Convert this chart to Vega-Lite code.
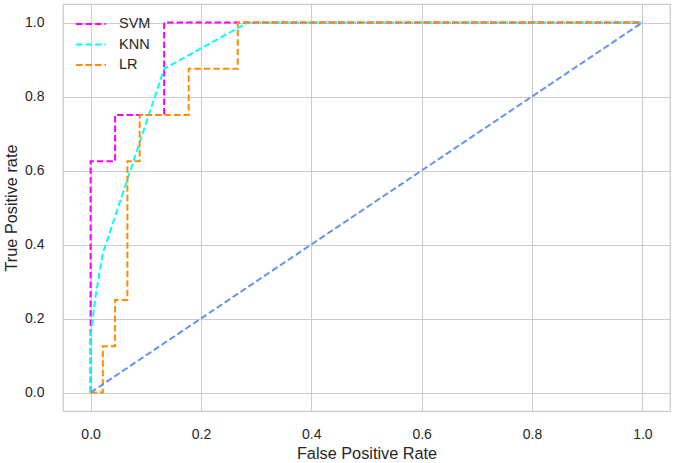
{
  "$schema": "https://vega.github.io/schema/vega-lite/v6.json",
  "description": "ROC curves for SVM, KNN and LR with a chance diagonal.",
  "width": 607,
  "height": 407,
  "autosize": {"type": "none"},
  "padding": {"left": 63, "top": 4, "right": 4, "bottom": 52},
  "datasets": {
    "roc": [
      {"model": "SVM", "i": 0, "fpr": 0, "tpr": 0},
      {"model": "SVM", "i": 1, "fpr": 0, "tpr": 0.625},
      {"model": "SVM", "i": 2, "fpr": 0.0444, "tpr": 0.625},
      {"model": "SVM", "i": 3, "fpr": 0.0444, "tpr": 0.75},
      {"model": "SVM", "i": 4, "fpr": 0.1333, "tpr": 0.75},
      {"model": "SVM", "i": 5, "fpr": 0.1333, "tpr": 1},
      {"model": "SVM", "i": 6, "fpr": 1, "tpr": 1},
      {"model": "KNN", "i": 0, "fpr": 0, "tpr": 0},
      {"model": "KNN", "i": 1, "fpr": 0, "tpr": 0.15},
      {"model": "KNN", "i": 2, "fpr": 0.009, "tpr": 0.26},
      {"model": "KNN", "i": 3, "fpr": 0.022, "tpr": 0.375},
      {"model": "KNN", "i": 4, "fpr": 0.1333, "tpr": 0.875},
      {"model": "KNN", "i": 5, "fpr": 0.285, "tpr": 1},
      {"model": "KNN", "i": 6, "fpr": 1, "tpr": 1},
      {"model": "LR", "i": 0, "fpr": 0, "tpr": 0},
      {"model": "LR", "i": 1, "fpr": 0.0222, "tpr": 0},
      {"model": "LR", "i": 2, "fpr": 0.0222, "tpr": 0.125},
      {"model": "LR", "i": 3, "fpr": 0.0444, "tpr": 0.125},
      {"model": "LR", "i": 4, "fpr": 0.0444, "tpr": 0.25},
      {"model": "LR", "i": 5, "fpr": 0.0667, "tpr": 0.25},
      {"model": "LR", "i": 6, "fpr": 0.0667, "tpr": 0.625},
      {"model": "LR", "i": 7, "fpr": 0.0889, "tpr": 0.625},
      {"model": "LR", "i": 8, "fpr": 0.0889, "tpr": 0.75},
      {"model": "LR", "i": 9, "fpr": 0.1778, "tpr": 0.75},
      {"model": "LR", "i": 10, "fpr": 0.1778, "tpr": 0.875},
      {"model": "LR", "i": 11, "fpr": 0.2667, "tpr": 0.875},
      {"model": "LR", "i": 12, "fpr": 0.2667, "tpr": 1},
      {"model": "LR", "i": 13, "fpr": 1, "tpr": 1}
    ],
    "chance": [
      {"i": 0, "fpr": 0, "tpr": 0},
      {"i": 1, "fpr": 1, "tpr": 1}
    ]
  },
  "layer": [
    {
      "data": {"name": "roc"},
      "mark": {"type": "line", "strokeWidth": 2, "strokeDash": [6.5, 3], "clip": true},
      "encoding": {
        "x": {
          "field": "fpr",
          "type": "quantitative",
          "scale": {"domain": [-0.05, 1.05], "nice": false, "zero": false},
          "axis": {
            "title": "False Positive Rate",
            "values": [0, 0.2, 0.4, 0.6, 0.8, 1.0],
            "format": ".1f"
          }
        },
        "y": {
          "field": "tpr",
          "type": "quantitative",
          "scale": {"domain": [-0.05, 1.05], "nice": false, "zero": false},
          "axis": {
            "title": "True Positive rate",
            "values": [0, 0.2, 0.4, 0.6, 0.8, 1.0],
            "format": ".1f"
          }
        },
        "order": {"field": "i"},
        "color": {
          "field": "model",
          "type": "nominal",
          "scale": {"domain": ["SVM", "KNN", "LR"], "range": ["#ff00ff", "#00ffff", "#ff8c00"]},
          "legend": {
            "title": null,
            "orient": "none",
            "legendX": 17,
            "legendY": 9,
            "padding": 0,
            "symbolType": "M-1.5,0H1.5",
            "symbolSize": 400,
            "symbolStrokeWidth": 2,
            "symbolDash": [6.5, 3],
            "labelFontSize": 14.5,
            "labelOffset": 17,
            "rowPadding": 2.5
          }
        }
      }
    },
    {
      "data": {"name": "chance"},
      "mark": {"type": "line", "color": "#6495ed", "strokeWidth": 2, "strokeDash": [6.5, 3]},
      "encoding": {
        "x": {"field": "fpr", "type": "quantitative"},
        "y": {"field": "tpr", "type": "quantitative"},
        "order": {"field": "i"}
      }
    }
  ],
  "config": {
    "font": "Liberation Sans",
    "view": {"stroke": "#cccccc", "strokeWidth": 1.25},
    "axis": {
      "domain": false,
      "ticks": false,
      "grid": true,
      "gridColor": "#cccccc",
      "gridWidth": 1,
      "labelFontSize": 14,
      "labelColor": "#262626",
      "labelPadding": 16,
      "titleFontSize": 16.3,
      "titleFontWeight": "normal",
      "titleColor": "#262626",
      "titlePadding": 4
    },
    "axisY": {"labelPadding": 19, "titlePadding": 5},
    "legend": {"labelColor": "#262626", "labelFont": "Liberation Sans"}
  }
}
